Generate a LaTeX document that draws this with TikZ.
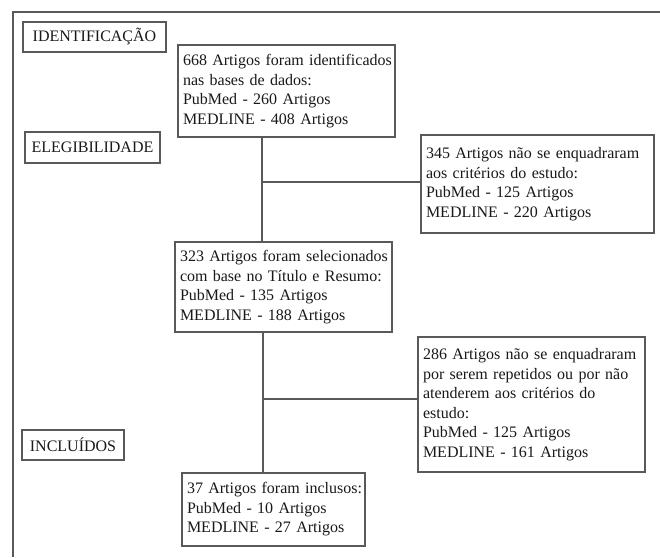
\documentclass[tikz,border=0pt]{standalone}
\usepackage{fontspec}
\setmainfont{Liberation Serif}
\newcommand{\boxlines}[1]{\begin{tabular}{@{}l@{}}#1\end{tabular}}
\begin{document}
\begin{tikzpicture}[x=1pt,y=-1pt,
  linecol/.style={draw=black!65, line width=1.3pt},
  hdr/.style={linecol, fill=white, text=black!90, inner sep=0pt, font=\fontsize{16}{19.5}\selectfont},
  infobox/.style={linecol, fill=white, text=black!90, inner xsep=5pt, inner ysep=0pt, align=left,
    font=\fontsize{16}{19.5}\selectfont},
  conn/.style={draw=black!65, line width=1.3pt}]
\useasboundingbox (0,0) rectangle (660,557);
\draw[linecol] (13,557) -- (13,12) -- (660,12);
\node[hdr, minimum width=143pt, minimum height=30pt] (hid) at (94.5,37) {IDENTIFICAÇÃO};
\node[hdr, minimum width=135pt, minimum height=31pt] (hel) at (92.5,147.5) {ELEGIBILIDADE};
\node[hdr, minimum width=102pt, minimum height=30pt] (hin) at (73,445) {INCLUÍDOS};
\node[infobox, text width=207pt, minimum height=92pt] (b1) at (286.5,91)
  {\boxlines{668 Artigos foram identificados\\ nas bases de dados:\\ PubMed - 260 Artigos\\ MEDLINE - 408 Artigos}};
\node[infobox, text width=223pt, minimum height=98pt] (b345) at (537.5,184)
  {\boxlines{345 Artigos não se enquadraram\\ aos critérios do estudo:\\ PubMed - 125 Artigos\\ MEDLINE - 220 Artigos}};
\node[infobox, text width=207pt, minimum height=90pt] (b323) at (283.5,287)
  {\boxlines{323 Artigos foram selecionados\\ com base no Título e Resumo:\\ PubMed - 135 Artigos\\ MEDLINE - 188 Artigos}};
\node[infobox, text width=217pt, minimum height=135pt] (b286) at (531.5,404.5)
  {\boxlines{286 Artigos não se enquadraram\\ por serem repetidos ou por não\\ atenderem aos critérios do\\ estudo:\\ PubMed - 125 Artigos\\ MEDLINE - 161 Artigos}};
\node[infobox, text width=173pt, minimum height=73pt] (b37) at (273.5,509.5)
  {\boxlines{37 Artigos foram inclusos:\\ PubMed - 10 Artigos\\ MEDLINE - 27 Artigos}};
\coordinate (j1) at (262,182);
\coordinate (j2) at (263,399);
\draw[conn] (j1 |- b1.south) -- (j1 |- b323.north);
\draw[conn] (j1) -- (j1 -| b345.west);
\draw[conn] (j2 |- b323.south) -- (j2 |- b37.north);
\draw[conn] (j2) -- (j2 -| b286.west);
\end{tikzpicture}
\end{document}
